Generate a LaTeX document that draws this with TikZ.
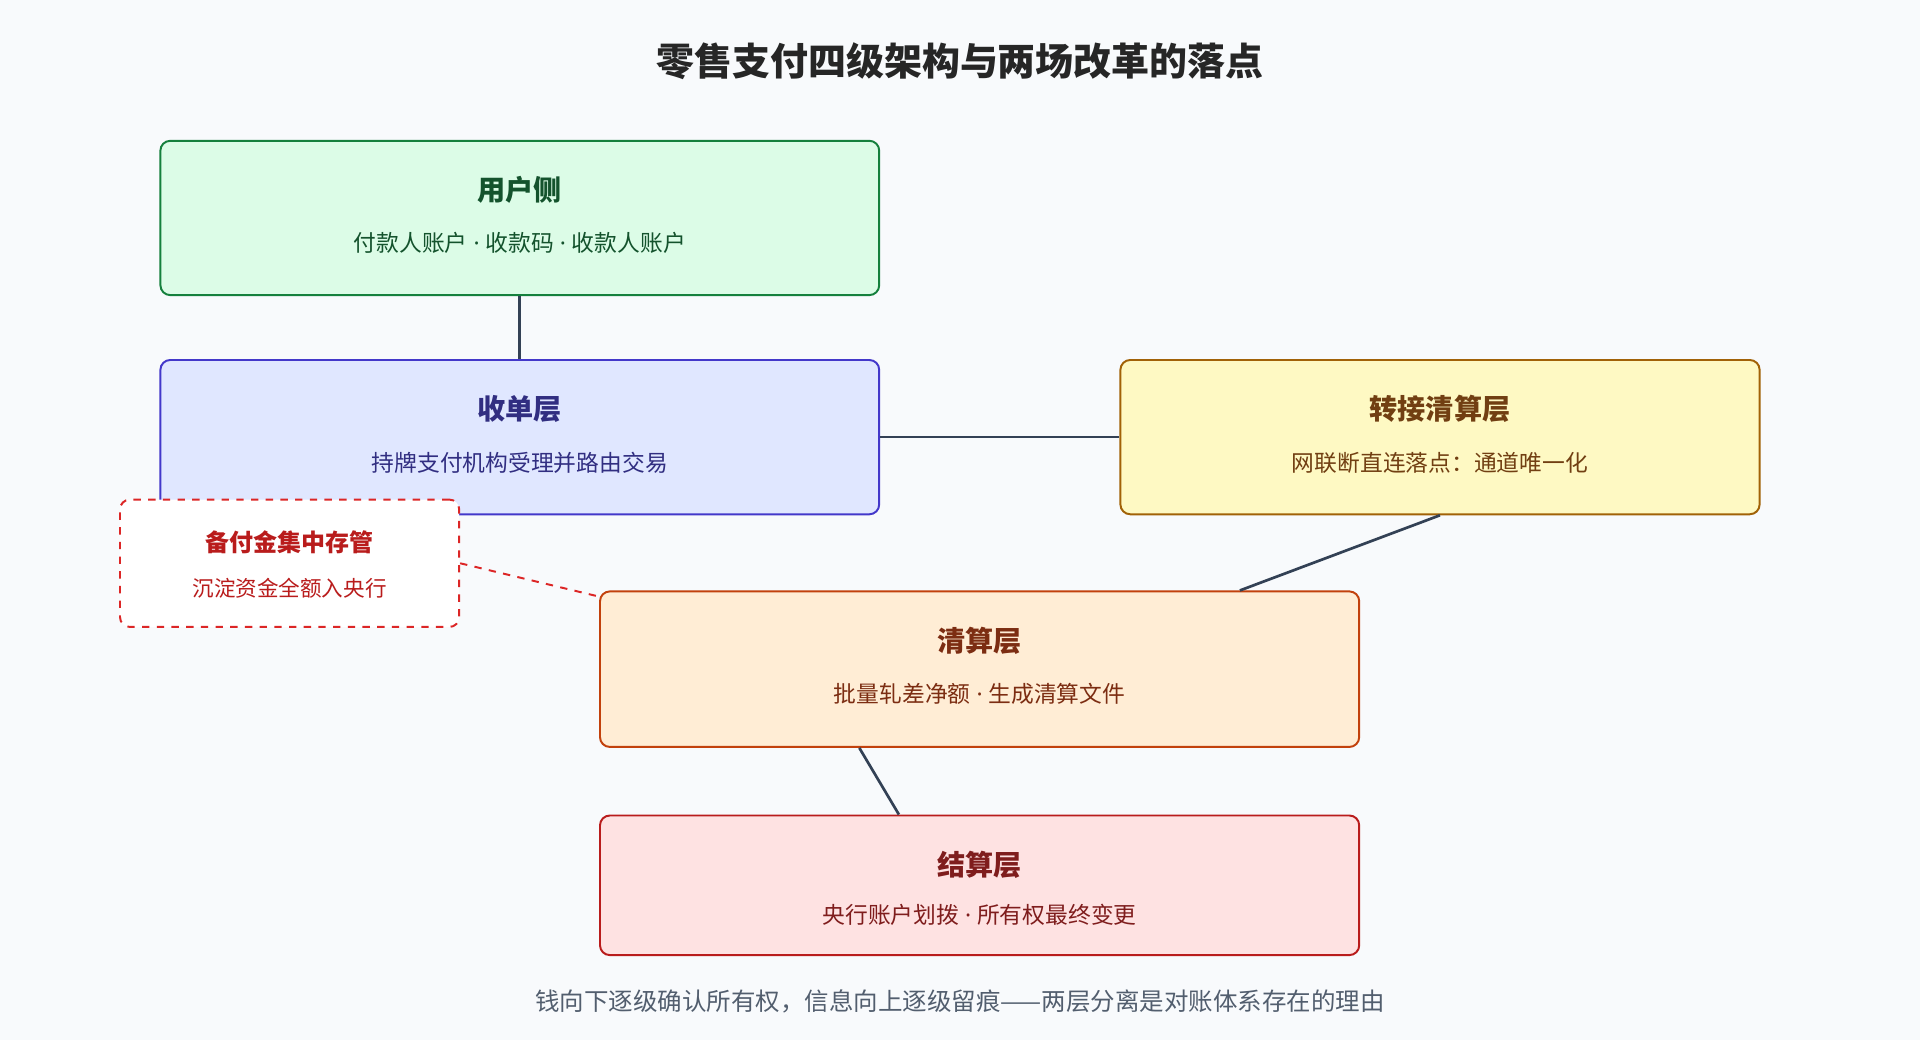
\documentclass[tikz,border=0pt]{standalone}
\usepackage{fontspec}
\setmainfont{Noto Sans CJK SC}
\newfontfamily\latinsans{Noto Sans}
\newcommand{\mdot}{{\latinsans\ ·\ }}
\usetikzlibrary{calc}
\definecolor{bgc}{HTML}{F8FAFC}
\definecolor{linec}{HTML}{334155}
\definecolor{usrfill}{HTML}{DCFCE7}\definecolor{usrdraw}{HTML}{15803D}\definecolor{usrtext}{HTML}{14532D}
\definecolor{acqfill}{HTML}{E0E7FF}\definecolor{acqdraw}{HTML}{4338CA}\definecolor{acqtext}{HTML}{312E81}
\definecolor{swfill}{HTML}{FEF9C3}\definecolor{swdraw}{HTML}{A16207}\definecolor{swtext}{HTML}{713F12}
\definecolor{clrfill}{HTML}{FFEDD5}\definecolor{clrdraw}{HTML}{C2410C}\definecolor{clrtext}{HTML}{7C2D12}
\definecolor{setfill}{HTML}{FEE2E2}\definecolor{setdraw}{HTML}{B91C1C}\definecolor{settext}{HTML}{7F1D1D}
\definecolor{rsvdraw}{HTML}{DC2626}\definecolor{rsvtext}{HTML}{B91C1C}
\begin{document}
\begin{tikzpicture}
[x=0.5pt,y=-0.5pt,%
  layer/.style={draw,rounded corners=4pt,line width=0.8pt,inner sep=0pt},%
  head/.style={font=\fontsize{11.5}{13}\selectfont\bfseries},%
  sub/.style={font=\fontsize{9.3}{11}\selectfont},%
  link/.style={linec,line width=1.1pt}]
\fill[bgc] (0,0) rectangle (1568,849);
\node[font=\fontsize{15.5}{18}\selectfont\bfseries,text=black!85] (title) at (784,50) {零售支付四级架构与两场改革的落点};
% layers
\node[layer,draw=usrdraw,fill=usrfill,minimum width=293.5pt,minimum height=63pt] (usr) at (424.5,178) {};
\node[head,text=usrtext] at (424.5,155) {用户侧};
\node[sub,text=usrtext] at (424.5,198) {付款人账户\mdot 收款码\mdot 收款人账户};
\node[layer,draw=acqdraw,fill=acqfill,minimum width=293.5pt,minimum height=63pt] (acq) at (424.5,357) {};
\node[head,text=acqtext] at (424.5,334) {收单层};
\node[sub,text=acqtext] at (424.5,378) {持牌支付机构受理并路由交易};
\node[layer,draw=swdraw,fill=swfill,minimum width=261pt,minimum height=63pt] (sw) at (1176,357) {};
\node[head,text=swtext] at (1176,334) {转接清算层};
\node[sub,text=swtext] at (1176,378) {网联断直连落点：通道唯一化};
\node[layer,draw=clrdraw,fill=clrfill,minimum width=310pt,minimum height=63.5pt] (clr) at (800,546.5) {};
\node[head,text=clrtext] at (800,523) {清算层};
\node[sub,text=clrtext] at (800,567) {批量轧差净额\mdot 生成清算文件};
\node[layer,draw=setdraw,fill=setfill,minimum width=310pt,minimum height=57pt] (set) at (800,723) {};
\node[head,text=settext] at (800,706) {结算层};
\node[sub,text=settext] at (800,747) {央行账户划拨\mdot 所有权最终变更};
\node[layer,draw=rsvdraw,fill=white,dashed,minimum width=138.5pt,minimum height=52pt] (rsv) at (236.5,460) {};
\node[font=\fontsize{9.8}{11}\selectfont\bfseries,text=rsvtext] at (236.5,443) {备付金集中存管};
\node[font=\fontsize{8.8}{10}\selectfont,text=rsvtext] at (236.5,480) {沉淀资金全额入央行};
% connectors
\coordinate (clrtop) at ($(clr.north west)!0.842!(clr.north east)$);
\coordinate (clrbot) at ($(clr.south west)!0.342!(clr.south east)$);
\coordinate (settop) at ($(set.north west)!0.394!(set.north east)$);
\coordinate (clrleft) at ($(clr.north west)+(0,5)$);
\draw[link] (usr.south) -- (acq.north);
\draw[link] (acq.east) -- (sw.west);
\draw[link] (sw.south) -- (clrtop);
\draw[link] (clrbot) -- (settop);
\draw[rsvdraw,line width=0.8pt,dashed] (rsv.east) -- (clrleft);
\node[font=\fontsize{10}{12}\selectfont,text=linec!85] (foot) at (784,818) {钱向下逐级确认所有权，信息向上逐级留痕——两层分离是对账体系存在的理由};
\end{tikzpicture}
\end{document}
